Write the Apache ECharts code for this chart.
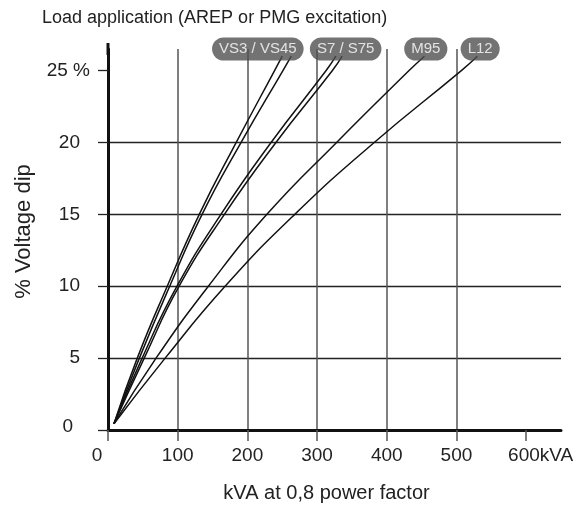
<!DOCTYPE html>
<html>
<head>
<meta charset="utf-8">
<script src="https://cdn.jsdelivr.net/npm/echarts@6/dist/echarts.min.js"></script>
<style>
html,body{margin:0;padding:0;background:#fff;}
#chart{width:584px;height:510px;}
</style>
</head>
<body>
<div id="chart"></div>
<script>
// ---- data (kVA, % voltage dip) ----
const title = 'Load application (AREP or PMG excitation)';
const xAxisName = 'kVA at 0,8 power factor';
const yAxisName = '% Voltage dip';
const xTicks = [0, 100, 200, 300, 400, 500, 600];
const yTicks = [0, 5, 10, 15, 20, 25];

const vs3a = [[8.6,0.44],[42,5],[85,10],[131,15],[184,20],[239,25],[250,26]];
const vs3b = [[8.6,0.44],[45,5],[88.5,10],[135,15],[191,20],[251,25],[263,26]];
const s7a  = [[8.6,0.44],[49,5],[99,10],[162,15],[234,20],[313,25],[327,26]];
const s7b  = [[8.6,0.44],[52,5],[102,10],[167,15],[241,20],[322,25],[336,26]];
const m95  = [[8.6,0.44],[69,5],[144,10],[228,15],[328,20],[432,25],[454,26]];
const l12  = [[8.6,0.44],[82,5],[168,10],[268,15],[382,20],[507,25],[530,26]];

const tagNames = ['VS3 / VS45', 'S7 / S75', 'M95', 'L12'];
const tagX = [215, 341, 456, 534];
const tagY = [26.5, 26.5, 26.5, 26.5];

const FONT = '"Liberation Sans", Arial, sans-serif';
const TXT = '#222';
const chart = echarts.init(document.getElementById('chart'), null, {renderer: 'canvas'});

function lineSeries(name, data) {
  return {
    type: 'line', name: name, data: data, smooth: 0.5, symbol: 'none',
    lineStyle: {color: '#111', width: 1.5}, z: 3, clip: false
  };
}

const option = {
  animation: false,
  backgroundColor: '#fff',
  title: {
    text: title, left: 37, top: 4,
    textStyle: {fontFamily: FONT, fontSize: 18, fontWeight: 'normal', color: TXT}
  },
  grid: {left: 108, right: 23, top: 49, bottom: 80},
  xAxis: {
    type: 'value', min: 0, max: 650, interval: 100,
    name: xAxisName, nameLocation: 'middle', nameGap: 53,
    nameTextStyle: {fontFamily: FONT, fontSize: 20, color: TXT, padding: [0, 16, 0, 0]},
    axisLine: {show: true, lineStyle: {color: '#111', width: 3}},
    axisTick: {show: true, length: 11, inside: false, customValues: xTicks, lineStyle: {color: '#555', width: 1.5}},
    axisLabel: {
      customValues: xTicks, margin: 16,
      fontFamily: FONT, fontSize: 19, color: TXT,
      formatter: function (v) {
        if (v === 0) return '{z|0}';
        if (v === 600) return '{k|600kVA}';
        return String(v);
      },
      rich: {
        z: {fontFamily: FONT, fontSize: 19, color: TXT, padding: [0, 22, 0, 0]},
        k: {fontFamily: FONT, fontSize: 19, color: TXT, padding: [0, 0, 0, 29]}
      }
    },
    splitLine: {show: true, showMinLine: false, showMaxLine: false, lineStyle: {color: '#555', width: 1.5}}
  },
  yAxis: {
    type: 'value', min: 0, max: 26.5, interval: 5,
    name: yAxisName, nameLocation: 'middle', nameGap: 73,
    nameTextStyle: {fontFamily: FONT, fontSize: 22, color: TXT, padding: [0, 0, 0, 16]},
    axisLine: {
      show: true, symbol: ['none', 'rect'], symbolSize: [3, 12],
      lineStyle: {color: '#111', width: 3}
    },
    axisTick: {show: true, length: 10, inside: false, customValues: yTicks, lineStyle: {color: '#222', width: 1.3}},
    axisLabel: {
      customValues: yTicks, margin: 18,
      fontFamily: FONT, fontSize: 19, color: TXT,
      formatter: function (v) {
        if (v === 25) return '25 %';
        if (v === 0) return '{o|0}';
        return '{n|' + v + '}';
      },
      rich: {
        n: {fontFamily: FONT, fontSize: 19, color: TXT, padding: [0, 10, 0, 0]},
        o: {fontFamily: FONT, fontSize: 19, color: TXT, padding: [0, 17, 6, 0]}
      }
    },
    splitLine: {show: true, showMinLine: false, showMaxLine: false, lineStyle: {color: '#222', width: 1.3}}
  },
  series: [
    lineSeries('VS3 a', vs3a),
    lineSeries('VS3 b', vs3b),
    lineSeries('S7 a', s7a),
    lineSeries('S7 b', s7b),
    lineSeries('M95', m95),
    lineSeries('L12', l12),
    {
      type: 'scatter', name: 'tags', symbolSize: 1, clip: false, z: 10,
      itemStyle: {color: 'rgba(0,0,0,0)'},
      data: tagNames.map((n, i) => ({name: n, value: [tagX[i], tagY[i]]})),
      label: {
        show: true, position: 'inside', formatter: '{b}',
        fontFamily: FONT, fontSize: 15, color: '#fff',
        backgroundColor: '#505050', borderRadius: 12, padding: [4, 7, 4, 7]
      }
    }
  ]
};
chart.setOption(option);
</script>
</body>
</html>
